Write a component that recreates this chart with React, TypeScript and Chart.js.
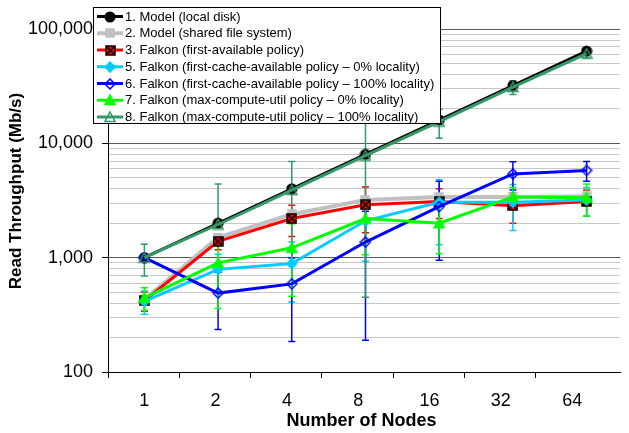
import React, { useEffect, useRef } from 'react';
import { Chart, registerables } from 'chart.js';

Chart.register(...registerables);

const FONT = '"Liberation Sans", Arial, sans-serif';

const categories = ['1', '2', '4', '8', '16', '32', '64'];
const yMajorTicks = [100, 1000, 10000, 100000];
const yTickLabels = ['100', '1,000', '10,000', '100,000'];
const xTitle = 'Number of Nodes';
const yTitle = 'Read Throughput (Mb/s)';

const seriesNames = [
  '1. Model (local disk)',
  '2. Model (shared file system)',
  '3. Falkon (first-available policy)',
  '5. Falkon (first-cache-available policy – 0% locality)',
  '6. Falkon (first-cache-available policy – 100% locality)',
  '7. Falkon (max-compute-util policy – 0% locality)',
  '8. Falkon (max-compute-util policy – 100% locality)',
];

// values (Mb/s)
const modelLocalDisk = [1000, 2000, 4000, 8000, 16000, 32000, 64000];
const modelSharedFS = [430, 1500, 2400, 3200, 3400, 3400, 3450];
const firstAvailable = [420, 1390, 2200, 2900, 3100, 2850, 3100];
const firstCache0 = [415, 790, 890, 2100, 3050, 3050, 3200];
const firstCache100 = [1000, 490, 590, 1370, 2800, 5400, 5800];
const maxCompute0 = [445, 900, 1220, 2200, 2000, 3400, 3350];
const maxCompute100 = [1000, 1950, 3900, 7800, 15500, 31000, 61000];

// symmetric error bar sizes (Mb/s); null = no error bars
const firstAvailableErr = [80, 220, 670, 1250, 900, 850, 800];
const firstCache0Err = [95, 280, 480, 1170, 1750, 1320, 900];
const firstCache100Err = [70, 255, 405, 1180, 1850, 1500, 1150];
const maxCompute0Err = [100, 540, 760, 1140, 920, 700, 1050];
const maxCompute100Err = [310, 2450, 3050, 7350, 4400, 4200, 5200];

const seriesValues = [modelLocalDisk, modelSharedFS, firstAvailable, firstCache0, firstCache100, maxCompute0, maxCompute100];
const seriesErrors = [null, null, firstAvailableErr, firstCache0Err, firstCache100Err, maxCompute0Err, maxCompute100Err];

const seriesColors = ['#000000', '#c0c0c0', '#ff0000', '#00ccff', '#0000ff', '#00ff00', '#339966'];
const seriesLineWidths = [3, 4, 3, 3, 3, 3, 3];
const seriesMarkers = [
  { kind: 'circle', fill: '#000000', stroke: '#000000', size: 12 },
  { kind: 'square', fill: '#c0c0c0', stroke: '#c0c0c0', size: 10 },
  { kind: 'xsquare', fill: '#ff0000', stroke: '#000000', size: 11 },
  { kind: 'diamond', fill: '#00ccff', stroke: '#00ccff', size: 12 },
  { kind: 'diamond', fill: 'none', stroke: '#0000ff', size: 12 },
  { kind: 'triangle', fill: '#00ff00', stroke: '#00ff00', size: 12 },
  { kind: 'triangle', fill: 'none', stroke: '#339966', size: 12 },
];

function makeMarker(kind: string, fill: string, stroke: string, size: number): HTMLCanvasElement {
  const c = document.createElement('canvas');
  c.width = size;
  c.height = size;
  const ctx = c.getContext('2d') as CanvasRenderingContext2D;
  const m = size / 2;
  ctx.lineWidth = 1.5;
  ctx.strokeStyle = stroke;
  ctx.fillStyle = fill;
  ctx.beginPath();
  if (kind === 'circle') {
    ctx.arc(m, m, m - 1.2, 0, Math.PI * 2);
  } else if (kind === 'square' || kind === 'xsquare') {
    ctx.rect(1, 1, size - 2, size - 2);
  } else if (kind === 'diamond') {
    ctx.moveTo(m, 1);
    ctx.lineTo(size - 1, m);
    ctx.lineTo(m, size - 1);
    ctx.lineTo(1, m);
    ctx.closePath();
  } else if (kind === 'triangle') {
    ctx.moveTo(m, 1);
    ctx.lineTo(size - 1, size - 1.5);
    ctx.lineTo(1, size - 1.5);
    ctx.closePath();
  }
  if (fill !== 'none') ctx.fill();
  ctx.stroke();
  if (kind === 'xsquare') {
    ctx.beginPath();
    ctx.lineWidth = 1.5;
    ctx.moveTo(1.5, 1.5);
    ctx.lineTo(size - 1.5, size - 1.5);
    ctx.moveTo(size - 1.5, 1.5);
    ctx.lineTo(1.5, size - 1.5);
    ctx.stroke();
  }
  return c;
}

export default function App() {
  const canvasRef = useRef<HTMLCanvasElement | null>(null);

  useEffect(() => {
    document.body.style.margin = '0';
    const canvas = canvasRef.current;
    if (!canvas) return;

    const markers = seriesMarkers.map((m) => makeMarker(m.kind, m.fill, m.stroke, m.size));

    const datasets = seriesValues.map((vals, i) => ({
      label: seriesNames[i],
      data: vals.map((v, j) => ({ x: j + 1, y: v })),
      xAxisID: 'xp',
      yAxisID: 'y',
      borderColor: seriesColors[i],
      backgroundColor: seriesColors[i],
      borderWidth: seriesLineWidths[i],
      pointStyle: markers[i],
      pointRadius: 5,
      pointHoverRadius: 5,
      tension: 0,
      order: 20 - i,
    }));

    const errorBarPlugin = {
      id: 'errorBars',
      beforeDatasetsDraw(chart: any) {
        const ctx = chart.ctx as CanvasRenderingContext2D;
        const xs = chart.scales.xp;
        const ys = chart.scales.y;
        const area = chart.chartArea;
        ctx.save();
        ctx.beginPath();
        ctx.rect(area.left, area.top, area.right - area.left, area.bottom - area.top);
        ctx.clip();
        seriesErrors.forEach((errs, i) => {
          if (!errs) return;
          ctx.strokeStyle = seriesColors[i];
          ctx.lineWidth = 1.5;
          seriesValues[i].forEach((v, j) => {
            const e = errs[j];
            if (e == null) return;
            const px = xs.getPixelForValue(j + 1);
            const py = ys.getPixelForValue(v);
            const hi = ys.getPixelForValue(v + e);
            const lo = v - e > 0 ? ys.getPixelForValue(v - e) : null;
            ctx.beginPath();
            ctx.moveTo(px, hi);
            ctx.lineTo(px, lo == null ? py : lo);
            ctx.moveTo(px - 3.5, hi);
            ctx.lineTo(px + 3.5, hi);
            if (lo != null) {
              ctx.moveTo(px - 3.5, lo);
              ctx.lineTo(px + 3.5, lo);
            }
            ctx.stroke();
          });
        });
        ctx.restore();
      },
    };

    const decorPlugin = {
      id: 'decor',
      afterDraw(chart: any) {
        const ctx = chart.ctx as CanvasRenderingContext2D;
        ctx.save();
        // axis titles
        ctx.fillStyle = '#000';
        ctx.font = 'bold 18px ' + FONT;
        ctx.textAlign = 'center';
        ctx.textBaseline = 'middle';
        ctx.fillText(xTitle, 361.5, 421);
        ctx.font = 'bold 17px ' + FONT;
        ctx.translate(16.5, 191);
        ctx.rotate(-Math.PI / 2);
        ctx.fillText(yTitle, 0, 0);
        ctx.restore();

        // legend
        ctx.save();
        ctx.fillStyle = '#ffffff';
        ctx.fillRect(93.5, 7.5, 347, 116);
        ctx.strokeStyle = '#000';
        ctx.lineWidth = 1;
        ctx.strokeRect(93.5, 7.5, 347, 116);
        ctx.font = '13px ' + FONT;
        ctx.textBaseline = 'middle';
        ctx.textAlign = 'left';
        seriesNames.forEach((name, i) => {
          const cy = 16.5 + i * 16.75;
          ctx.strokeStyle = seriesColors[i];
          ctx.lineWidth = seriesLineWidths[i];
          ctx.beginPath();
          ctx.moveTo(97, cy);
          ctx.lineTo(123, cy);
          ctx.stroke();
          const img = markers[i];
          ctx.drawImage(img, Math.round(110 - img.width / 2), Math.round(cy - img.height / 2));
          ctx.fillStyle = '#000';
          ctx.fillText(name, 125, cy + 0.5);
        });
        ctx.restore();
      },
    };

    const chart = new Chart(canvas, {
      type: 'line',
      data: { datasets: datasets as any },
      plugins: [errorBarPlugin, decorPlugin],
      options: {
        animation: false,
        responsive: false,
        events: [],
        layout: { padding: { top: 29, right: 0, left: 0, bottom: 0 } },
        plugins: {
          legend: { display: false },
          tooltip: { enabled: false },
          title: { display: false },
        },
        scales: {
          xp: {
            type: 'linear',
            display: false,
            min: 0.5067,
            max: 7.453,
          },
          x: {
            type: 'linear',
            position: 'bottom',
            min: 0.5,
            max: 7.68,
            afterBuildTicks: (scale: any) => {
              scale.ticks = categories.map((_, i) => ({ value: i + 0.5 }));
            },
            afterFit: (scale: any) => {
              scale.height = 61;
            },
            ticks: {
              autoSkip: false,
              maxRotation: 0,
              labelOffset: 36.3,
              padding: 12,
              color: '#000',
              font: { family: FONT, size: 18 },
              callback: (_v: any, i: number) => categories[i],
            },
            grid: {
              drawOnChartArea: false,
              drawTicks: true,
              tickLength: 6,
              tickColor: '#000',
              tickWidth: 1,
            },
            border: { display: true, color: '#000', width: 1 },
          },
          y: {
            type: 'logarithmic',
            position: 'left',
            min: 100,
            max: 100000,
            afterBuildTicks: (scale: any) => {
              const t: any[] = [];
              for (let d = 0; d < yMajorTicks.length - 1; d++) {
                for (let s = 1; s < 10; s++) t.push({ value: yMajorTicks[d] * s, major: s === 1 });
              }
              t.push({ value: yMajorTicks[yMajorTicks.length - 1], major: true });
              scale.ticks = t;
            },
            afterFit: (scale: any) => {
              scale.width = 108;
            },
            ticks: {
              autoSkip: false,
              padding: 9,
              color: '#000',
              font: { family: FONT, size: 18 },
              callback: (v: any) => {
                const k = yMajorTicks.indexOf(Number(v));
                return k >= 0 ? yTickLabels[k] : '';
              },
            },
            grid: {
              drawTicks: true,
              tickLength: 6,
              color: (c: any) => (c.tick && yMajorTicks.indexOf(c.tick.value) >= 0 ? '#595959' : '#c8c8c8'),
              tickColor: (c: any) => (c.tick && yMajorTicks.indexOf(c.tick.value) >= 0 ? '#000' : 'rgba(0,0,0,0)'),
              lineWidth: 1,
            },
            border: { display: true, color: '#000', width: 1 },
          },
        },
      },
    });

    return () => {
      chart.destroy();
    };
  }, []);

  return <canvas ref={canvasRef} width={629} height={433} style={{ display: 'block' }} />;
}
